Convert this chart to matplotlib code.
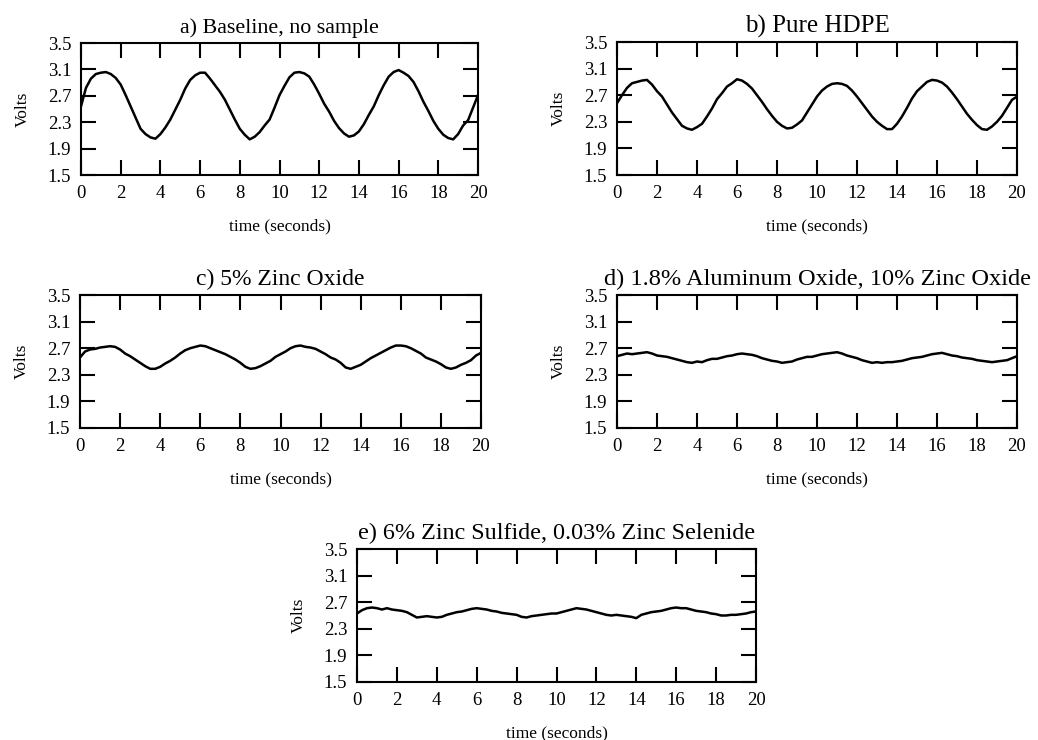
import numpy as np
import matplotlib
matplotlib.use('Agg')
import matplotlib.pyplot as plt

plt.rcParams['font.family'] = ['Liberation Serif', 'DejaVu Serif']

# Sample grid (seconds) and detector signal (volts)
time = np.linspace(0, 20, 81)

baseline = [2.54, 2.82, 2.96, 3.03, 3.05, 3.06, 3.03, 2.97, 2.87, 2.71,
            2.54, 2.37, 2.20, 2.12, 2.07, 2.05, 2.12, 2.22, 2.34, 2.49,
            2.64, 2.81, 2.94, 3.01, 3.05, 3.05, 2.96, 2.86, 2.76, 2.64,
            2.49, 2.34, 2.20, 2.11, 2.04, 2.08, 2.15, 2.25, 2.34, 2.52,
            2.71, 2.85, 2.98, 3.05, 3.06, 3.04, 2.99, 2.87, 2.73, 2.58,
            2.46, 2.32, 2.21, 2.13, 2.08, 2.10, 2.16, 2.27, 2.41, 2.54,
            2.71, 2.86, 2.99, 3.06, 3.09, 3.05, 3.00, 2.91, 2.77, 2.61,
            2.47, 2.32, 2.20, 2.11, 2.06, 2.04, 2.12, 2.25, 2.33, 2.52, 2.71]

hdpe = [2.58, 2.70, 2.81, 2.88, 2.90, 2.92, 2.93, 2.86, 2.76, 2.68,
        2.56, 2.44, 2.34, 2.24, 2.20, 2.18, 2.22, 2.27, 2.38, 2.50,
        2.64, 2.73, 2.83, 2.88, 2.94, 2.92, 2.87, 2.80, 2.70, 2.60,
        2.49, 2.39, 2.30, 2.24, 2.20, 2.21, 2.26, 2.32, 2.44, 2.56,
        2.68, 2.77, 2.83, 2.87, 2.88, 2.87, 2.84, 2.77, 2.68, 2.58,
        2.48, 2.38, 2.30, 2.24, 2.19, 2.19, 2.27, 2.38, 2.51, 2.65,
        2.76, 2.83, 2.90, 2.93, 2.92, 2.89, 2.83, 2.74, 2.64, 2.53,
        2.42, 2.33, 2.25, 2.19, 2.18, 2.23, 2.30, 2.39, 2.51, 2.63, 2.68]

zinc_oxide = [2.56, 2.65, 2.68, 2.69, 2.71, 2.72, 2.73, 2.72, 2.68, 2.62,
              2.58, 2.53, 2.48, 2.43, 2.39, 2.39, 2.42, 2.47, 2.51, 2.56,
              2.62, 2.67, 2.70, 2.72, 2.74, 2.73, 2.70, 2.67, 2.64, 2.61,
              2.57, 2.53, 2.48, 2.42, 2.39, 2.40, 2.43, 2.47, 2.51, 2.57,
              2.61, 2.65, 2.70, 2.73, 2.74, 2.72, 2.71, 2.69, 2.65, 2.61,
              2.56, 2.53, 2.48, 2.41, 2.39, 2.42, 2.45, 2.50, 2.55, 2.59,
              2.63, 2.67, 2.71, 2.74, 2.74, 2.73, 2.70, 2.66, 2.62, 2.56,
              2.53, 2.50, 2.46, 2.41, 2.39, 2.41, 2.45, 2.48, 2.52, 2.59, 2.63]

alumina_zno = [2.58, 2.60, 2.62, 2.61, 2.62, 2.63, 2.64, 2.62, 2.59, 2.58,
               2.57, 2.55, 2.53, 2.51, 2.49, 2.48, 2.50, 2.49, 2.52, 2.54,
               2.54, 2.56, 2.58, 2.59, 2.61, 2.62, 2.61, 2.60, 2.58, 2.55,
               2.53, 2.51, 2.50, 2.48, 2.49, 2.50, 2.53, 2.55, 2.57, 2.57,
               2.59, 2.61, 2.62, 2.63, 2.64, 2.62, 2.59, 2.57, 2.55, 2.52,
               2.50, 2.48, 2.49, 2.48, 2.49, 2.49, 2.50, 2.51, 2.53, 2.55,
               2.56, 2.57, 2.59, 2.61, 2.62, 2.63, 2.61, 2.59, 2.58, 2.56,
               2.55, 2.54, 2.52, 2.51, 2.50, 2.49, 2.50, 2.51, 2.52, 2.55, 2.58]

zns_znse = [2.53, 2.58, 2.61, 2.62, 2.61, 2.59, 2.61, 2.59, 2.58, 2.57,
            2.55, 2.51, 2.47, 2.48, 2.49, 2.48, 2.47, 2.48, 2.51, 2.53,
            2.55, 2.56, 2.58, 2.60, 2.61, 2.60, 2.59, 2.57, 2.56, 2.54,
            2.53, 2.52, 2.51, 2.48, 2.47, 2.49, 2.50, 2.51, 2.52, 2.53,
            2.53, 2.55, 2.57, 2.59, 2.61, 2.60, 2.59, 2.57, 2.55, 2.53,
            2.51, 2.50, 2.51, 2.50, 2.49, 2.48, 2.46, 2.51, 2.53, 2.55,
            2.56, 2.57, 2.59, 2.61, 2.62, 2.61, 2.61, 2.59, 2.57, 2.56,
            2.55, 2.53, 2.52, 2.50, 2.50, 2.51, 2.51, 2.52, 2.53, 2.55, 2.56]

titles = ['a) Baseline, no sample', 'b) Pure HDPE', 'c) 5% Zinc Oxide',
          'd) 1.8% Aluminum Oxide, 10% Zinc Oxide',
          'e) 6% Zinc Sulfide, 0.03% Zinc Selenide']
series = [baseline, hdpe, zinc_oxide, alumina_zno, zns_znse]

x_ticks = np.arange(0, 21, 2)
y_ticks = [1.5, 1.9, 2.3, 2.7, 3.1, 3.5]
y_labels = ['1.5', '1.9', '2.3', '2.7', '3.1', '3.5']

W, H = 1038, 740
fig = plt.figure(figsize=(W / 100, H / 100), dpi=100)

# axes boxes in pixels: left, top, right, bottom
boxes = [(81, 43, 478, 175),
         (617, 42, 1017, 175),
         (80, 295, 481, 428),
         (617, 295, 1017, 428),
         (357, 549, 756, 682)]
title_sizes = [15.8, 18, 17, 17.6, 17.4]

for (l, t, r, b), title, volts, tsize in zip(boxes, titles, series, title_sizes):
    ax = fig.add_axes([l / W, 1 - b / H, (r - l) / W, (b - t) / H])
    ax.plot(time, volts, color='black', lw=1.8)
    ax.set_xlim(0, 20)
    ax.set_ylim(1.5, 3.5)
    ax.set_xticks(x_ticks)
    ax.set_yticks(y_ticks)
    ax.set_yticklabels(y_labels)
    ax.tick_params(direction='in', length=11, width=1.5, top=True, right=True,
                   labelsize=13.5, pad=7)
    for s in ax.spines.values():
        s.set_linewidth(1.5)
    ax.set_title(title, fontsize=tsize, pad=7)
    ax.set_xlabel('time (seconds)', fontsize=12.5, labelpad=12)
    ax.set_ylabel('Volts', fontsize=12.5, labelpad=12)

fig.savefig('out.png', dpi=100)
